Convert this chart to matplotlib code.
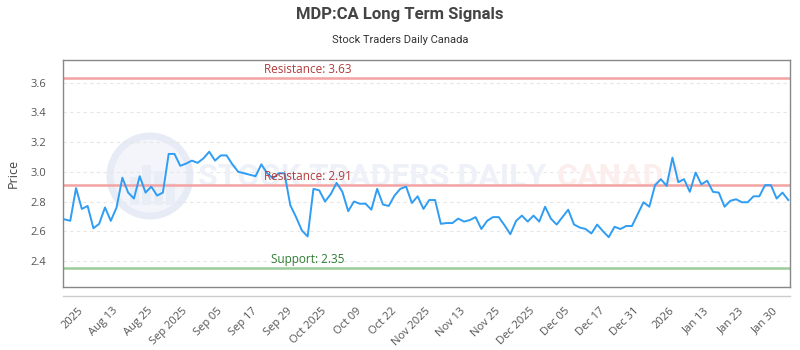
import matplotlib
matplotlib.use("Agg")
import matplotlib.pyplot as plt
from matplotlib.patches import Circle, Rectangle
from matplotlib.lines import Line2D

title = "MDP:CA Long Term Signals"
subtitle = "Stock Traders Daily Canada"

prices = [
    2.68, 2.67, 2.89, 2.75, 2.77, 2.62, 2.65, 2.76, 2.67, 2.76,
    2.96, 2.86, 2.82, 2.97, 2.86, 2.90, 2.84, 2.86, 3.12, 3.12,
    3.04, 3.055, 3.075, 3.06, 3.09, 3.135, 3.075, 3.11, 3.11, 3.05,
    3.00, 2.99, 2.98, 2.97, 3.05, 2.99, 2.955, 2.99, 2.99, 2.775,
    2.695, 2.605,
    2.565, 2.885, 2.875, 2.80, 2.85, 2.925, 2.865, 2.735, 2.80, 2.785,
    2.785, 2.745, 2.885, 2.78, 2.77, 2.84, 2.885, 2.90, 2.79, 2.835, 2.75,
    2.81, 2.81, 2.65, 2.655, 2.655, 2.685, 2.665, 2.675, 2.695, 2.615,
    2.67, 2.695, 2.695, 2.64, 2.58, 2.67, 2.705, 2.665, 2.705, 2.665,
    2.765, 2.685, 2.645, 2.695, 2.745, 2.645, 2.625, 2.615, 2.585, 2.645,
    2.60, 2.56, 2.63, 2.615, 2.635, 2.635, 2.715, 2.795, 2.765, 2.91, 2.95,
    2.905, 3.095, 2.93, 2.95, 2.865, 2.995, 2.915, 2.94, 2.865, 2.86,
    2.765, 2.805, 2.815, 2.795, 2.795, 2.835, 2.835, 2.91, 2.91, 2.82,
    2.86, 2.81,
]

tick_labels = ["2025", "Aug 13", "Aug 25", "Sep 2025", "Sep 05", "Sep 17",
               "Sep 29", "Oct 2025", "Oct 09", "Oct 22", "Nov 2025", "Nov 13",
               "Nov 25", "Dec 2025", "Dec 05", "Dec 17", "Dec 31", "2026",
               "Jan 13", "Jan 23", "Jan 30"]

resistance_high = 3.63
resistance_low = 2.91
support = 2.35
y_ticks = [2.4, 2.6, 2.8, 3.0, 3.2, 3.4, 3.6]

plt.rcParams['font.family'] = ['Open Sans', 'DejaVu Sans']

fig = plt.figure(figsize=(8, 3.5), dpi=100)
ax = fig.add_axes([63.3/800, 1-287/350, (790-63.3)/800, (287-59.5)/350])

# faint watermark (drawn beneath the data)
circ = Circle((1.50, 3.5 - 1.76), 0.40, transform=fig.dpi_scale_trans,
              facecolor="#f3f5fb", edgecolor="#e6ebf5", lw=5, zorder=0.5,
              clip_on=False)
ax.add_patch(circ)
for bx, bh in [(1.30, 0.28), (1.42, 0.40), (1.54, 0.34), (1.66, 0.22)]:
    ax.add_patch(Rectangle((bx, 3.5 - 2.05), 0.09, bh, transform=fig.dpi_scale_trans,
                           facecolor="#e9edf6", edgecolor="none", zorder=0.6,
                           clip_on=False))
ax.text(372/800, 1-177/350, "STOCK TRADERS DAILY", fontsize=23, fontweight='bold',
        family='Roboto', color="#eef1f7", ha='center', va='center', zorder=0.7,
        transform=fig.transFigure)
ax.text(621/800, 1-177/350, "CANADA", fontsize=23, fontweight='bold',
        family='Roboto', color="#fdeeee", ha='center', va='center', zorder=0.7,
        transform=fig.transFigure)

x = list(range(len(prices)))
ax.plot(x, prices, color="#2f9df4", lw=1.4, zorder=3)

ax.axhline(resistance_high, color="#f4a3a3", lw=1.8, zorder=2)
ax.axhline(resistance_low, color="#f4a3a3", lw=1.8, zorder=2)
ax.axhline(support, color="#9acb9a", lw=1.8, zorder=2)

mid = 42
ax.text(mid, resistance_high + 0.015, f"Resistance: {resistance_high:.2f}",
        color="#b23b3b", fontsize=8.5, ha='center', va='bottom', zorder=4)
ax.text(mid, resistance_low + 0.015, f"Resistance: {resistance_low:.2f}",
        color="#b23b3b", fontsize=8.5, ha='center', va='bottom', zorder=4)
ax.text(mid, support + 0.015, f"Support: {support:.2f}",
        color="#2e7d32", fontsize=8.5, ha='center', va='bottom', zorder=4)

ax.set_xlim(-0.2, len(prices) - 0.7)
ax.set_ylim(2.225, 3.755)
ax.set_yticks(y_ticks)
ax.set_yticklabels([f"{v:.1f}" for v in y_ticks])
ax.grid(axis='y', color="#e6e6e6", ls=(0, (3, 3)), lw=0.8, zorder=1)
ax.set_axisbelow(True)

tick_pos = list(range(3, len(prices), 6))[:len(tick_labels)]
ax.set_xticks(tick_pos)
ax.set_xticklabels(tick_labels, rotation=45, ha='right', va='center',
                   rotation_mode='anchor')
ax.tick_params(axis='x', length=0, pad=16, labelsize=8, labelcolor="#555555")
ax.tick_params(axis='y', length=0, pad=12, labelsize=8, labelcolor="#555555")

for s in ax.spines.values():
    s.set_color("#888888")
    s.set_linewidth(1)

ax.add_line(Line2D([0, 1], [-0.04, -0.04], transform=ax.transAxes,
                   color="#cccccc", lw=1, clip_on=False))

ax.set_ylabel("Price", fontsize=9, color="#444444", labelpad=8)

fig.text(0.5, 1-15/350, title, ha='center', va='center', fontsize=12,
         fontweight='bold', family='Roboto', color="#444444")
fig.text(0.5, 1-40/350, subtitle, ha='center', va='center', fontsize=8,
         family='Roboto', color="#333333")

fig.savefig("out.png", dpi=100)
